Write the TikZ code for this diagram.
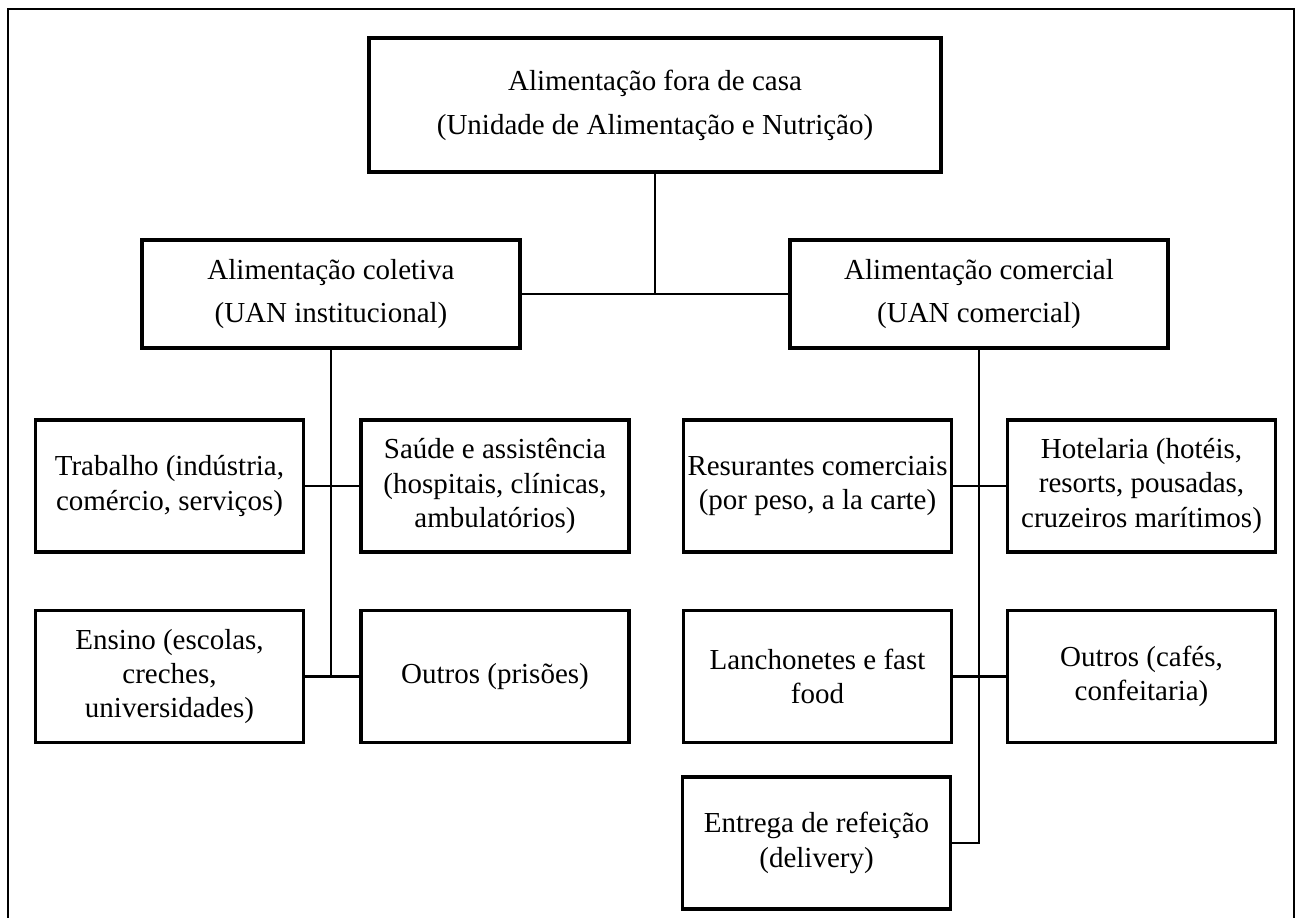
\documentclass[tikz,border=0pt]{standalone}
\usepackage{fontspec}
\setmainfont{Liberation Serif}
\usepackage{tikz}
\usetikzlibrary{positioning, calc}
\tikzstyle{uanbox} = [rectangle, draw, line width=2pt, align=center, inner sep=0pt, font=\fontsize{16.5pt}{25pt}\selectfont]
\tikzstyle{levelbox} = [uanbox, minimum width=7.56cm, minimum height=2.16cm]
\tikzstyle{subbox} = [uanbox, minimum width=5.36cm, minimum height=2.64cm, font=\fontsize{16.5pt}{19.5pt}\selectfont]
\tikzstyle{link} = [line width=1.6pt]

\begin{document}
\begin{tikzpicture}[x=0.02cm, y=-0.02cm]
    \useasboundingbox (0,0) rectangle (1300,918);
    % outer frame, open at the bottom
    \draw[line width=1.1pt] (8,918) -- (8,9) -- (1294,9) -- (1294,918);

    % top
    \node[uanbox, minimum width=11.44cm, minimum height=2.68cm] (fora) at (655,105) {Alimentação fora de casa\\(Unidade de Alimentação e Nutrição)};

    % second level
    \node[levelbox] (coletiva) at (331,294) {Alimentação coletiva\\(UAN institucional)};
    \node[levelbox] (comercial) at (979,294) {Alimentação comercial\\(UAN comercial)};

    % coletiva branch
    \node[subbox] (trabalho) at (169.5,486) {Trabalho (indústria,\\comércio, serviços)};
    \node[subbox] (saude) at (495,486) {Saúde e assistência\\(hospitais, clínicas,\\ambulatórios)};
    \node[subbox] (ensino) at (169.5,676.5) {Ensino (escolas,\\creches,\\universidades)};
    \node[subbox] (outrosprisoes) at (495,676.5) {Outros (prisões)};

    % comercial branch
    \node[subbox] (restaurantes) at (817.5,486) {Resurantes comerciais\\(por peso, a la carte)};
    \node[subbox] (hotelaria) at (1141.5,486) {Hotelaria (hotéis,\\resorts, pousadas,\\cruzeiros marítimos)};
    \node[subbox] (lanchonetes) at (817.5,676.5) {Lanchonetes e fast\\food};
    \node[subbox] (outroscafes) at (1141.5,676.5) {Outros (cafés,\\confeitaria)};
    \node[subbox] (entrega) at (816.5,843) {Entrega de refeição\\(delivery)};

    % connectors
    \draw[link] (fora.south) -- (fora.south |- coletiva.east);
    \draw[link] (coletiva.east) -- (comercial.west);

    \draw[link] (coletiva.south) -- (coletiva.south |- ensino.east);
    \draw[link] (trabalho.east) -- (saude.west);
    \draw[link] (ensino.east) -- (outrosprisoes.west);

    \draw[link] (comercial.south) |- (entrega.east);
    \draw[link] (restaurantes.east) -- (hotelaria.west);
    \draw[link] (lanchonetes.east) -- (outroscafes.west);
\end{tikzpicture}
\end{document}
